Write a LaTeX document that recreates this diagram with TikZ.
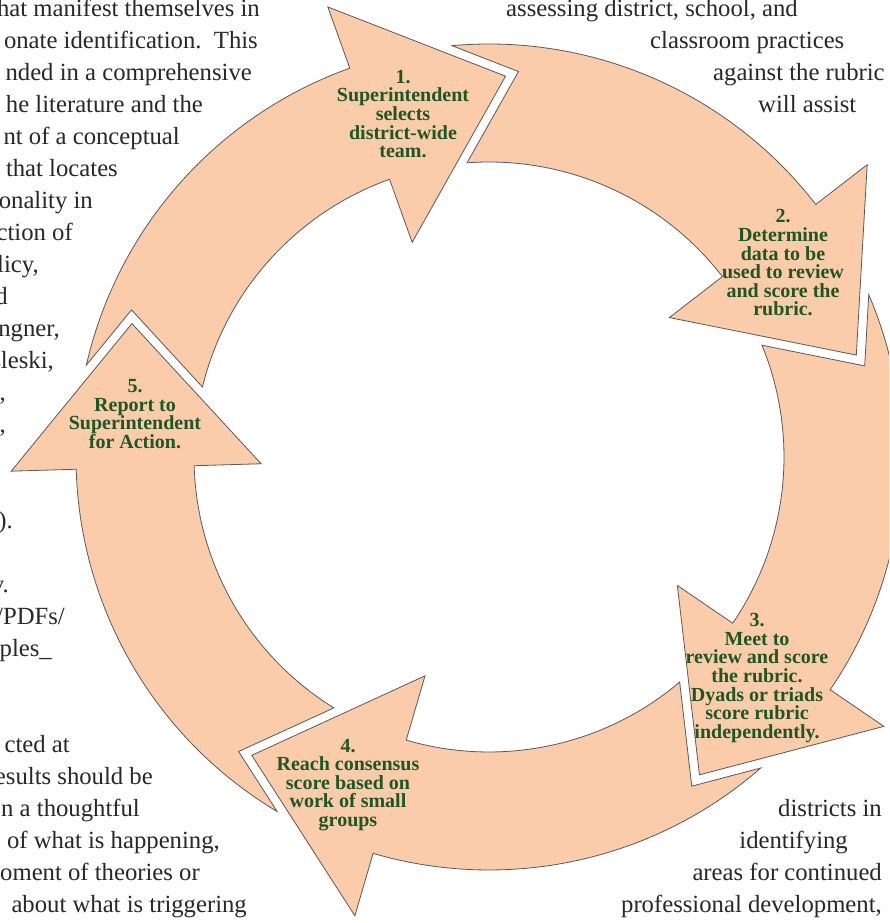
\documentclass[tikz,border=0pt]{standalone}
\usepackage{fontspec}
\setmainfont{Liberation Serif}
\definecolor{peach}{RGB}{250,204,170}
\definecolor{edgegray}{RGB}{90,90,90}
\definecolor{labelgreen}{RGB}{31,86,38}
\definecolor{bodytext}{RGB}{40,40,40}
\newcommand{\cyclearrow}[1]{%
  \pgfmathsetmacro\pb{#1+72}%
  \filldraw[arrowshape] ({\pb-14.56}:413) arc[start angle={\pb-14.56}, end angle={#1}, radius=413]
    -- (#1:478) -- ({#1-22.19}:381.2) -- (#1:228) -- (#1:295)
    arc[start angle={#1}, end angle={\pb-15.43}, radius=295]
    -- ({\pb-24.07}:386.6) -- cycle;}
\tikzset{
  arrowshape/.style={fill=peach, draw=edgegray, line width=0.8pt, line join=miter},
  steplabel/.style={text=labelgreen, font=\fontsize{20}{18.6}\selectfont\bfseries, align=center, inner sep=0pt},
  pagetext/.style={text=bodytext, font=\fontsize{24.7}{32}\selectfont, inner sep=0pt}
}
\begin{document}
\begin{tikzpicture}[x=1pt,y=1pt]
\useasboundingbox (0,0) rectangle (889,923);
\clip (0,0) rectangle (889,923);
\fill[white] (0,0) rectangle (889,923);
% page text, left column
\node[pagetext, anchor=base east] (t1) at (260,906) {hat manifest themselves in};
\node[pagetext, anchor=base east] (t2) at (258,874) {onate identification.\ \ This};
\node[pagetext, anchor=base east] (t3) at (252,842) {nded in a comprehensive};
\node[pagetext, anchor=base east] (t4) at (203,810) {he literature and the};
\node[pagetext, anchor=base east] (t5) at (180,778) {nt of a conceptual};
\node[pagetext, anchor=base east] (t6) at (118,746) {that locates};
\node[pagetext, anchor=base east] (t7) at (93,714) {onality in};
\node[pagetext, anchor=base east] (t8) at (73,682) {ction of};
\node[pagetext, anchor=base east] (t9) at (39,650) {licy,};
\node[pagetext, anchor=base east] (t10) at (8,618) {d};
\node[pagetext, anchor=base east] (t11) at (60,586) {ngner,};
\node[pagetext, anchor=base east] (t12) at (54,554) {zleski,};
\node[pagetext, anchor=base east] (t13) at (6,522) {,};
\node[pagetext, anchor=base east] (t14) at (6,490) {,};
\node[pagetext, anchor=base east] (t15) at (13,394) {).};
\node[pagetext, anchor=base east] (t16) at (9,330) {v.};
\node[pagetext, anchor=base east] (t17) at (65,298) {/PDFs/};
\node[pagetext, anchor=base east] (t18) at (52,266) {ples\_};
\node[pagetext, anchor=base east] (t19) at (70,170) {cted at};
\node[pagetext, anchor=base east] (t20) at (153,138) {esults should be};
\node[pagetext, anchor=base east] (t21) at (140,106) {n a thoughtful};
\node[pagetext, anchor=base east] (t22) at (220,74) {of what is happening,};
\node[pagetext, anchor=base east] (t23) at (200,42) {oment of theories or};
\node[pagetext, anchor=base east] (t24) at (247,10) {about what is triggering};
% page text, right column
\node[pagetext, anchor=base west] (r1) at (506,906) {assessing district, school, and};
\node[pagetext, anchor=base west] (r2) at (650,874) {classroom practices};
\node[pagetext, anchor=base west] (r3) at (713,842) {against the rubric};
\node[pagetext, anchor=base west] (r4) at (758,810) {will assist};
\node[pagetext, anchor=base east] (r5) at (882,106) {districts in};
\node[pagetext, anchor=base east] (r6) at (848,74) {identifying};
\node[pagetext, anchor=base east] (r7) at (882,42) {areas for continued};
\node[pagetext, anchor=base east] (r8) at (882,10) {professional development,};
% cycle arrows
\begin{scope}[shift={(489,466)}]
\cyclearrow{109.7}
\cyclearrow{37.7}
\cyclearrow{-34.3}
\cyclearrow{-106.3}
\cyclearrow{-178.3}
\end{scope}
% step labels
\node[steplabel] (l1) at (403,809) {1.\\Superintendent\\selects\\district-wide\\team.};
\node[steplabel] (l2) at (783,660) {2.\\Determine\\data to be\\used to review\\and score the\\rubric.};
\node[steplabel] (l3) at (757,245) {3.\\Meet to\\review and score\\the rubric.\\Dyads or triads\\score rubric\\independently.};
\node[steplabel] (l4) at (348,138) {4.\\Reach consensus\\score based on\\work of small\\groups};
\node[steplabel] (l5) at (135,509) {5.\\Report to\\Superintendent\\for Action.};
\end{tikzpicture}
\end{document}
